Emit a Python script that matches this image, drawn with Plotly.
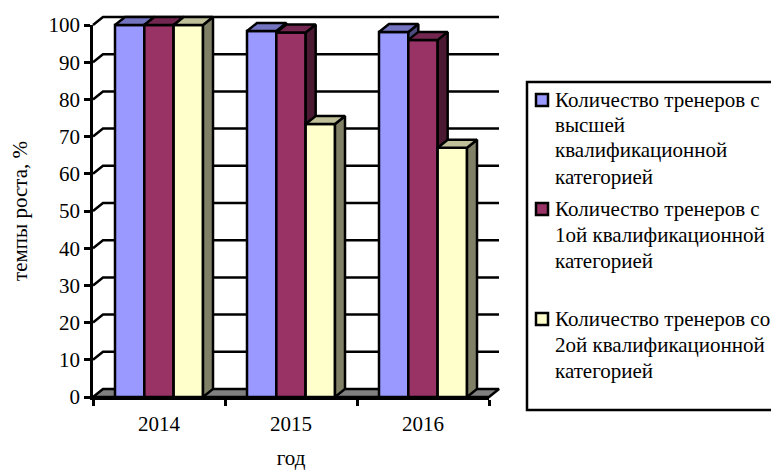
import plotly.graph_objects as go

years = ["2014", "2015", "2016"]
series_names = ["Количество тренеров с высшей квалификационной категорией",
                "Количество тренеров с 1ой квалификационной категорией",
                "Количество тренеров со 2ой квалификационной категорией"]
s_high = [100, 98.4, 98.1]
s_first = [100, 98.0, 96.0]
s_second = [100, 73.4, 67.0]
front_colors = ["#9999FF", "#993366", "#FFFFCC"]
top_colors = ["#7373BF", "#732650", "#BFBF99"]
side_colors = ["#4C4C80", "#4C1933", "#808066"]
y_ticks = list(range(0, 101, 10))

# pixel frame of the axes (front plane) and of the wider clip area holding the 3D depth
AL, AR, AT, AB = 93.0, 489.0, 25.0, 397.0
OL, OR, OT, OB = 90.0, 503.0, 13.0, 401.0
W, H = 771, 470
UX = (AR - AL) / 3
UY = (AB - AT) / 100
DX = 10 / UX
DY = 8 / UY
BW = 1 / 4.5
FONT = "Liberation Serif"
LW = 2.5


def px(x):
    return (x - OL) / (OR - OL)


def py(y):
    return (OB - y) / (OB - OT)


fig = go.Figure()
layers = [("x2", "y2"), ("x3", "y3"), ("x4", "y4"), ("x5", "y5")]

# keeps the visible front axes (ticks, labels, titles) on the page
fig.add_trace(go.Scatter(x=[0, 3], y=[0, 100], mode="none", xaxis="x", yaxis="y",
                         showlegend=False, hoverinfo="skip"))

# floor and gridlines
fig.add_trace(go.Scatter(x=[0, DX, 3 + DX, 3, 0], y=[0, DY, DY, 0, 0], mode="lines", fill="toself",
                         fillcolor="#808080", line=dict(color="black", width=LW), xaxis="x2", yaxis="y2",
                         showlegend=False, hoverinfo="skip"))
gx, gy = [], []
for v in y_ticks[1:]:
    gx += [0, DX, 3 + DX, None]
    gy += [v, v + DY, v + DY, None]
fig.add_trace(go.Scatter(x=gx, y=gy, mode="lines", line=dict(color="black", width=LW), xaxis="x2", yaxis="y2",
                         showlegend=False, hoverinfo="skip"))

all_series = [s_high, s_first, s_second]
for i, vals in enumerate(all_series):
    xa, ya = layers[i + 1]
    left = [c + (i - 1.5) * BW + 0.5 for c in range(3)]
    fig.add_trace(go.Bar(x=[l + BW / 2 for l in left], y=vals, width=BW, name=series_names[i],
                         marker=dict(color=front_colors[i], line=dict(color="black", width=LW)),
                         xaxis=xa, yaxis=ya, showlegend=False))
    tx, ty, sx, sy = [], [], [], []
    for l, v in zip(left, vals):
        r = l + BW
        tx += [l, l + DX, r + DX, r, l, None]
        ty += [v, v + DY, v + DY, v, v, None]
        sx += [r, r + DX, r + DX, r, r, None]
        sy += [v, v + DY, DY, 0, v, None]
    fig.add_trace(go.Scatter(x=sx, y=sy, mode="lines", fill="toself", fillcolor=side_colors[i],
                             line=dict(color="black", width=LW), xaxis=xa, yaxis=ya,
                             showlegend=False, hoverinfo="skip"))
    fig.add_trace(go.Scatter(x=tx, y=ty, mode="lines", fill="toself", fillcolor=top_colors[i],
                             line=dict(color="black", width=LW), xaxis=xa, yaxis=ya,
                             showlegend=False, hoverinfo="skip"))

layout = dict(
    width=W, height=H, autosize=False, paper_bgcolor="white", plot_bgcolor="rgba(0,0,0,0)",
    margin=dict(l=OL, r=W - OR, t=OT, b=H - OB, pad=0),
    font=dict(family=FONT, size=21, color="black"),
    barmode="overlay", showlegend=False,
    xaxis=dict(domain=[px(AL), px(AR)], range=[0, 3], anchor="y", tickmode="array", tickvals=[0.5, 1.5, 2.5],
               ticktext=years, ticks="", showgrid=False, zeroline=False, showline=True, linecolor="black",
               linewidth=LW, ticklabelstandoff=6, automargin=False,
               minor=dict(tickmode="array", tickvals=[0, 1, 2, 3], ticks="outside", ticklen=6, tickwidth=LW,
                          tickcolor="black", showgrid=False),
               title=dict(text="год", font=dict(size=21), standoff=37)),
    yaxis=dict(domain=[py(AB), py(AT)], range=[0, 100], anchor="x", tickmode="array", tickvals=y_ticks,
               ticks="outside", ticklen=6, tickwidth=LW, tickcolor="black", showgrid=False, zeroline=False,
               showline=True, linecolor="black", linewidth=LW, automargin=False,
               title=dict(text="темпы роста, %", font=dict(size=21), standoff=16)),
)
xr = [(OL - AL) / UX, (OR - AL) / UX]
yr = [(AB - OB) / UY, (AB - OT) / UY]
for n in range(2, 6):
    layout[f"xaxis{n}"] = dict(domain=[0, 1], range=xr, anchor=f"y{n}", visible=False)
    layout[f"yaxis{n}"] = dict(domain=[0, 1], range=yr, anchor=f"x{n}", visible=False)
fig.update_layout(**layout)

# legend box, cut by the right edge as in the reference
fig.add_shape(type="rect", xref="paper", yref="paper", x0=px(527), x1=px(790), y0=py(410), y1=py(82),
              line=dict(color="black", width=LW), fillcolor="white", layer="below")

legend_lines = [
    ["Количество тренеров с", "высшей", "квалификационной", "категорией"],
    ["Количество тренеров с", "1ой квалификационной", "категорией"],
    ["Количество тренеров со", "2ой квалификационной", "категорией"],
]
legend_y = [[100, 125, 150, 177], [209, 235, 261], [319, 345, 371]]
for i, (lines, ys) in enumerate(zip(legend_lines, legend_y)):
    fig.add_shape(type="rect", xref="paper", yref="paper", x0=px(536), x1=px(548), y0=py(ys[0] + 6),
                  y1=py(ys[0] - 6), line=dict(color="black", width=LW), fillcolor=front_colors[i])
    for t, y in zip(lines, ys):
        fig.add_annotation(text=t, xref="paper", yref="paper", x=px(553), y=py(y), xanchor="left",
                           yanchor="middle", showarrow=False, font=dict(size=21), align="left")

fig.write_html("out.html", config={"displayModeBar": False}, post_script="document.body.style.margin='0';")
